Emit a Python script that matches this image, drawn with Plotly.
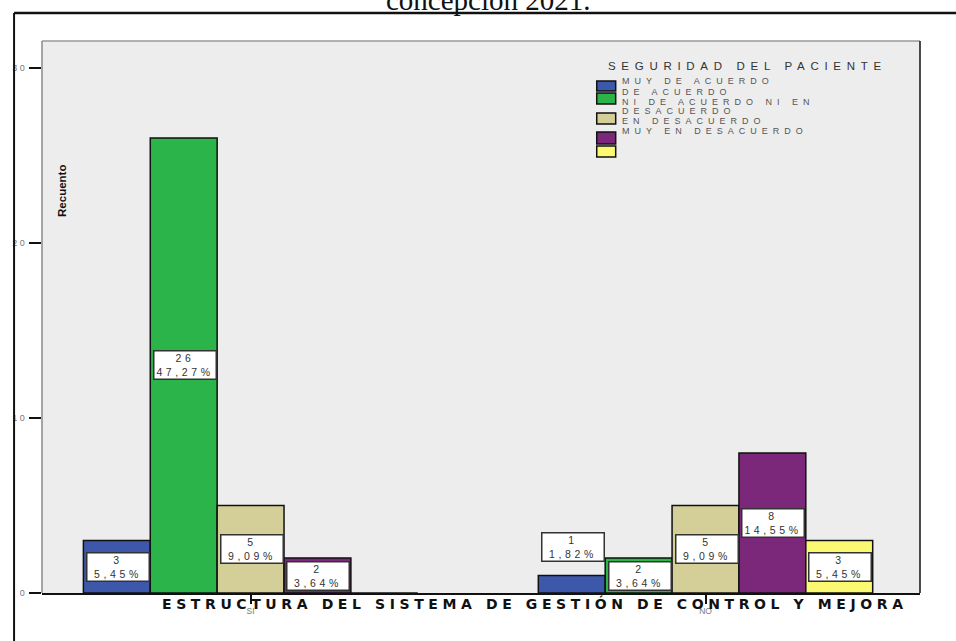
import plotly.graph_objects as go

# ---- data -------------------------------------------------------------
categories = ["SI", "NO"]
series_names = [
    "MUY DE ACUERDO",
    "DE ACUERDO",
    "NI DE ACUERDO NI EN DESACUERDO",
    "EN DESACUERDO",
    "MUY EN DESACUERDO",
]
series_colors = ["#3D58AB", "#2BB449", "#D4CF98", "#7B287A", "#FBF872"]

muy_de_acuerdo = [3, 1]
de_acuerdo = [26, 2]
ni_ni = [5, 5]
en_desacuerdo = [2, 8]
muy_en_desacuerdo = [0, 3]
series_values = [muy_de_acuerdo, de_acuerdo, ni_ni, en_desacuerdo, muy_en_desacuerdo]

total_cases = 55
y_ticks = [0, 10, 20, 30]

title_text = "concepción 2021."
x_title = "ESTRUCTURA DEL SISTEMA DE GESTIÓN DE CONTROL Y MEJORA"
y_title = "Recuento"
legend_title = "SEGURIDAD DEL PACIENTE"
legend_lines = ["MUY DE ACUERDO", "DE ACUERDO", "NI DE ACUERDO NI EN", "DESACUERDO",
                "EN DESACUERDO", "MUY EN DESACUERDO"]

# ---- geometry (pixels) -----------------------------------------------
W, H = 956, 641
L, R, T, B = 40, 920, 41, 593
Y_MAX = 31.54
BARGAP = 0.265


def px(x):
    return (x - L) / (R - L)


def py(y):
    return (B - y) / (B - T)


def spaced(text, ls):
    return f'<span style="letter-spacing:{ls}px">{text}</span>'


def pct(v):
    return f"{v / total_cases * 100:.2f}".replace(".", ",") + "%"


fig = go.Figure()
for name, vals, col in zip(series_names, series_values, series_colors):
    fig.add_trace(go.Bar(
        x=categories, y=vals, name=name,
        marker=dict(color=col, line=dict(color="#111111", width=1.5)),
        showlegend=False,
    ))

annotations = []
shapes = []

# value / percentage boxes on the bars
slot = (1 - BARGAP) / len(series_names)
px_per_unit = (B - T) / Y_MAX
for si, vals in enumerate(series_values):
    for ci, v in enumerate(vals):
        if v <= 0:
            continue
        xpos = ci + (si - (len(series_names) - 1) / 2) * slot
        fits = v * px_per_unit >= 32
        annotations.append(dict(
            x=xpos, y=v / 2 if fits else v, xref="x", yref="y",
            xanchor="center", yanchor="middle" if fits else "bottom",
            yshift=0 if fits else 14, xshift=1,
            text=spaced(str(v), 3.6) + "<br>" + spaced(pct(v), 3.6),
            showarrow=False, width=59, height=25,
            bgcolor="white", bordercolor="#333333", borderwidth=1.5, borderpad=1,
            font=dict(family="Liberation Sans, Arial", size=10.5, color="#333333"),
        ))

# title (cut by top edge)
annotations.append(dict(
    x=px(488), y=py(0.5), xref="paper", yref="paper", xanchor="center", yanchor="middle",
    text=title_text, showarrow=False, borderpad=0,
    font=dict(family="Liberation Serif, Times New Roman", size=29, color="#111111"),
))

# axis titles
annotations.append(dict(
    x=px(534), y=py(603), xref="paper", yref="paper", xanchor="center", yanchor="middle",
    text="<b>" + spaced(x_title, 4.6) + "</b>", showarrow=False,
    font=dict(family="DejaVu Sans", size=14, color="#111111"),
))
annotations.append(dict(
    x=px(60), y=py(191), xref="paper", yref="paper", xanchor="center", yanchor="middle",
    text="<b>" + y_title + "</b>", textangle=-90, showarrow=False,
    font=dict(family="Liberation Sans Narrow, Arial Narrow, Liberation Sans", size=11.5,
              color="#111111"),
))

# legend block
annotations.append(dict(
    x=px(605), y=py(66), xref="paper", yref="paper", xanchor="left", yanchor="middle",
    text=spaced(legend_title, 5.7), showarrow=False,
    font=dict(family="Liberation Sans, Arial", size=11.5, color="#333333"),
))
legend_text_y = [81, 91.5, 102, 111, 121, 131]
for txt, yy in zip(legend_lines, legend_text_y):
    annotations.append(dict(
        x=px(619), y=py(yy), xref="paper", yref="paper", xanchor="left", yanchor="middle",
        text=spaced(txt, 5.0), showarrow=False,
        font=dict(family="Liberation Sans, Arial", size=9, color="#555555"),
    ))
swatch_y = [(81, 91), (93, 104), (113, 124), (132, 144), (146, 157)]
for col, (y0, y1) in zip(series_colors, swatch_y):
    shapes.append(dict(type="rect", xref="paper", yref="paper",
                       x0=px(596), x1=px(615), y0=py(y1), y1=py(y0),
                       fillcolor=col, line=dict(color="#111111", width=1.5)))

# plot-area border
shapes += [
    dict(type="line", xref="paper", yref="paper", x0=px(L), x1=px(R), y0=py(T), y1=py(T),
         line=dict(color="#9A9A9A", width=1.5)),
    dict(type="line", xref="paper", yref="paper", x0=px(L), x1=px(L), y0=py(T), y1=py(B),
         line=dict(color="#8A8A8A", width=1.5)),
    dict(type="line", xref="paper", yref="paper", x0=px(R), x1=px(R), y0=py(T), y1=py(B),
         line=dict(color="#111111", width=1.5)),
]
# page frame lines
shapes += [
    dict(type="line", xref="paper", yref="paper", x0=px(12), x1=px(W + 2), y0=py(13), y1=py(13),
         line=dict(color="#111111", width=2.5)),
    dict(type="line", xref="paper", yref="paper", x0=px(12), x1=px(12), y0=py(13), y1=py(H + 2),
         line=dict(color="#111111", width=2)),
]

fig.update_layout(
    width=W, height=H,
    margin=dict(l=L, r=W - R, t=T, b=H - B, pad=0),
    paper_bgcolor="white", plot_bgcolor="#EDEDED",
    barmode="group", bargap=BARGAP, bargroupgap=0,
    showlegend=False,
    annotations=annotations, shapes=shapes,
    xaxis=dict(
        type="category", range=[-0.4585, 1.4715],
        showline=True, linecolor="#111111", linewidth=1.5,
        ticks="outside", ticklen=9, tickwidth=1.5, tickcolor="#111111",
        tickfont=dict(family="Liberation Sans, Arial", size=8.5, color="#777777"),
        showgrid=False, zeroline=False,
    ),
    yaxis=dict(
        range=[0, Y_MAX], tickvals=y_ticks,
        ticktext=[spaced(str(t), 2.5) for t in y_ticks],
        showline=False, ticks="outside", ticklen=12, tickwidth=1.5, tickcolor="#111111",
        tickfont=dict(family="Liberation Sans, Arial", size=9, color="#777777"),
        showgrid=False, zeroline=False,
    ),
)

fig.write_html("out.html")
